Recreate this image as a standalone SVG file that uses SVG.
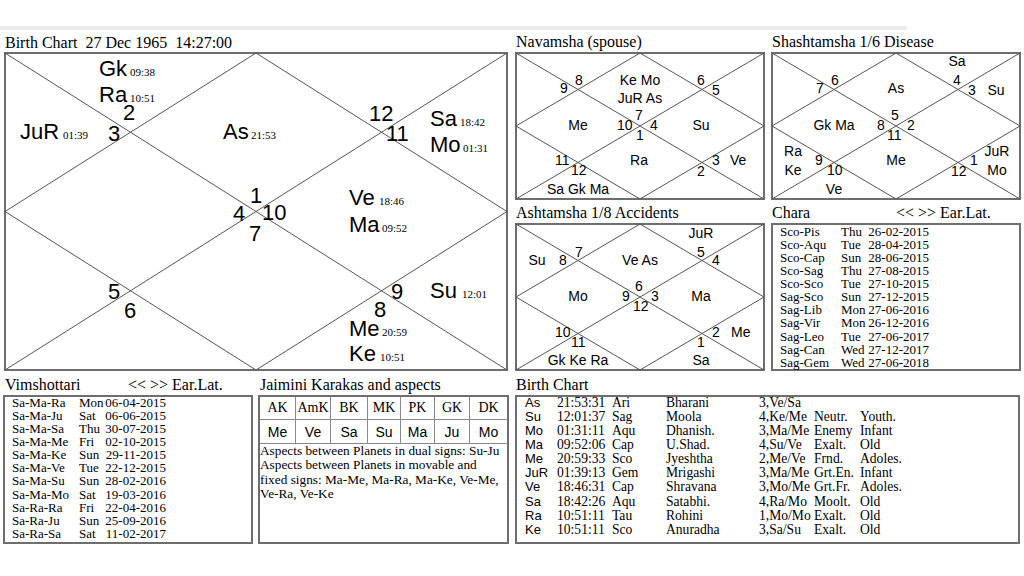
<svg xmlns="http://www.w3.org/2000/svg" width="1024" height="576" viewBox="0 0 1024 576">
<style>
.t{font-family:"Liberation Serif","Times New Roman",serif;font-size:16px;fill:#000;white-space:pre}
.pl{font-family:"Liberation Sans",Arial,sans-serif;font-size:22px;fill:#000}
.dg{font-family:"Liberation Serif","Times New Roman",serif;font-size:11px;fill:#000}
.s{font-family:"Liberation Sans",Arial,sans-serif;font-size:14px;fill:#000}
.sm{font-family:"Liberation Sans",Arial,sans-serif;font-size:14px;fill:#000;text-anchor:middle}
.tb{font-family:"Liberation Serif","Times New Roman",serif;font-size:13px;fill:#000}
.tbe{font-family:"Liberation Serif","Times New Roman",serif;font-size:13px;fill:#000;text-anchor:end}
.bt{font-family:"Liberation Serif","Times New Roman",serif;font-size:13.6px;fill:#000}
.ba{font-family:"Liberation Sans",Arial,sans-serif;font-size:13px;fill:#000}
.box{fill:#fff;stroke:#6e6e6e;stroke-width:2}
.ln{fill:none;stroke:#555;stroke-width:1}
.cell{fill:none;stroke:#8a8a8a;stroke-width:1}
.jh{font-family:"Liberation Serif","Times New Roman",serif;font-size:14px;fill:#000;text-anchor:middle}
.jv{font-family:"Liberation Sans",Arial,sans-serif;font-size:14px;fill:#000;text-anchor:middle}
</style>
<rect x="0" y="0" width="1024" height="576" fill="#fff"/>
<rect x="0" y="26" width="907" height="4" fill="#ededed"/>

<g id="main-chart">
<text class="t" x="5" y="48">Birth Chart  27 Dec 1965  14:27:00</text>
<rect class="box" x="5" y="53" width="502" height="317"/>
<path class="ln" d="M5 53L507 370M507 53L5 370M256 53L507 211.5L256 370L5 211.5Z"/>
<text class="pl" x="99" y="76">Gk</text><text class="dg" x="130" y="76">09:38</text>
<text class="pl" x="99" y="102">Ra</text><text class="dg" x="130" y="102">10:51</text>
<text class="pl" x="123" y="120">2</text>
<text class="pl" x="20" y="139">JuR</text><text class="dg" x="63" y="139">01:39</text>
<text class="pl" x="108" y="141">3</text>
<text class="pl" x="223" y="139">As</text><text class="dg" x="251" y="139">21:53</text>
<text class="pl" x="369" y="121">12</text>
<text class="pl" x="386" y="141">11</text>
<text class="pl" x="430" y="126">Sa</text><text class="dg" x="460" y="126">18:42</text>
<text class="pl" x="430" y="152">Mo</text><text class="dg" x="463" y="152">01:31</text>
<text class="pl" x="250" y="203">1</text>
<text class="pl" x="233" y="221">4</text>
<text class="pl" x="262" y="220">10</text>
<text class="pl" x="249" y="241">7</text>
<text class="pl" x="349" y="205">Ve</text><text class="dg" x="379" y="205">18:46</text>
<text class="pl" x="349" y="232">Ma</text><text class="dg" x="382" y="232">09:52</text>
<text class="pl" x="108" y="299">5</text>
<text class="pl" x="124" y="318">6</text>
<text class="pl" x="391" y="299">9</text>
<text class="pl" x="374" y="317">8</text>
<text class="pl" x="430" y="298">Su</text><text class="dg" x="462" y="298">12:01</text>
<text class="pl" x="349" y="336">Me</text><text class="dg" x="382" y="336">20:59</text>
<text class="pl" x="349" y="361">Ke</text><text class="dg" x="380" y="361">10:51</text>
</g>

<g id="navamsha">
<text class="t" x="516" y="47">Navamsha (spouse)</text>
<rect class="box" x="516" y="53" width="248" height="146"/>
<path class="ln" d="M516 53L764 199M764 53L516 199M640 53L764 126L640 199L516 126Z"/>
<text class="s" x="560" y="93">9</text><text class="s" x="575" y="85">8</text>
<text class="sm" x="640" y="85">Ke Mo</text><text class="sm" x="640" y="103">JuR As</text>
<text class="s" x="697" y="85">6</text><text class="s" x="712" y="95">5</text>
<text class="sm" x="578" y="130">Me</text>
<text class="s" x="617" y="130">10</text><text class="s" x="635" y="120">7</text><text class="s" x="650" y="130">4</text><text class="s" x="636" y="140">1</text>
<text class="sm" x="701" y="130">Su</text>
<text class="s" x="555" y="165">11</text><text class="s" x="571" y="175">12</text>
<text class="sm" x="639" y="165">Ra</text>
<text class="s" x="712" y="165">3</text><text class="s" x="730" y="165">Ve</text><text class="s" x="697" y="176">2</text>
<text class="sm" x="578" y="194">Sa Gk Ma</text>
</g>

<g id="shashtamsha">
<text class="t" x="772" y="47">Shashtamsha 1/6 Disease</text>
<rect class="box" x="772" y="53" width="248" height="146"/>
<path class="ln" d="M772 53L1020 199M1020 53L772 199M896 53L1020 126L896 199L772 126Z"/>
<text class="sm" x="957" y="66">Sa</text>
<text class="s" x="816" y="93">7</text><text class="s" x="831" y="85">6</text>
<text class="sm" x="896" y="93">As</text>
<text class="s" x="953" y="85">4</text><text class="s" x="968" y="95">3</text>
<text class="sm" x="996" y="95">Su</text>
<text class="sm" x="834" y="130">Gk Ma</text>
<text class="s" x="877" y="130">8</text><text class="s" x="891" y="120">5</text><text class="s" x="907" y="130">2</text><text class="s" x="887" y="140">11</text>
<text class="sm" x="793" y="156">Ra</text><text class="sm" x="793" y="175">Ke</text>
<text class="s" x="815" y="165">9</text><text class="s" x="827" y="175">10</text>
<text class="sm" x="896" y="165">Me</text>
<text class="s" x="951" y="176">12</text><text class="s" x="970" y="165">1</text>
<text class="sm" x="997" y="156">JuR</text><text class="sm" x="997" y="175">Mo</text>
<text class="sm" x="834" y="194">Ve</text>
</g>

<g id="ashtamsha">
<text class="t" x="516" y="218">Ashtamsha 1/8 Accidents</text>
<rect class="box" x="516" y="224" width="248" height="146"/>
<path class="ln" d="M516 224L764 370M764 224L516 370M640 224L764 297L640 370L516 297Z"/>
<text class="sm" x="701" y="238">JuR</text>
<text class="sm" x="537" y="265">Su</text>
<text class="s" x="559" y="265">8</text><text class="s" x="575" y="257">7</text>
<text class="sm" x="640" y="265">Ve As</text>
<text class="s" x="697" y="257">5</text><text class="s" x="712" y="265">4</text>
<text class="sm" x="578" y="301">Mo</text>
<text class="s" x="622" y="301">9</text><text class="s" x="635" y="291">6</text><text class="s" x="651" y="301">3</text><text class="s" x="633" y="311">12</text>
<text class="sm" x="701" y="301">Ma</text>
<text class="s" x="555" y="337">10</text><text class="s" x="571" y="347">11</text>
<text class="s" x="712" y="337">2</text><text class="s" x="731" y="337">Me</text>
<text class="s" x="697" y="347">1</text>
<text class="sm" x="578" y="365">Gk Ke Ra</text>
<text class="sm" x="701" y="365">Sa</text>
</g>

<g id="chara">
<text class="t" x="772" y="218">Chara</text>
<text class="t" x="896" y="218">&lt;&lt; &gt;&gt; Ear.Lat.</text>
<rect class="box" x="772" y="224" width="248" height="146"/>
<text class="tb" x="780" y="236">Sco-Pis</text><text class="tb" x="841" y="236">Thu</text><text class="tbe" x="929" y="236">26-02-2015</text>
<text class="tb" x="780" y="249">Sco-Aqu</text><text class="tb" x="841" y="249">Tue</text><text class="tbe" x="929" y="249">28-04-2015</text>
<text class="tb" x="780" y="262">Sco-Cap</text><text class="tb" x="841" y="262">Sun</text><text class="tbe" x="929" y="262">28-06-2015</text>
<text class="tb" x="780" y="275">Sco-Sag</text><text class="tb" x="841" y="275">Thu</text><text class="tbe" x="929" y="275">27-08-2015</text>
<text class="tb" x="780" y="288">Sco-Sco</text><text class="tb" x="841" y="288">Tue</text><text class="tbe" x="929" y="288">27-10-2015</text>
<text class="tb" x="780" y="301">Sag-Sco</text><text class="tb" x="841" y="301">Sun</text><text class="tbe" x="929" y="301">27-12-2015</text>
<text class="tb" x="780" y="314">Sag-Lib</text><text class="tb" x="841" y="314">Mon</text><text class="tbe" x="929" y="314">27-06-2016</text>
<text class="tb" x="780" y="327">Sag-Vir</text><text class="tb" x="841" y="327">Mon</text><text class="tbe" x="929" y="327">26-12-2016</text>
<text class="tb" x="780" y="341">Sag-Leo</text><text class="tb" x="841" y="341">Tue</text><text class="tbe" x="929" y="341">27-06-2017</text>
<text class="tb" x="780" y="354">Sag-Can</text><text class="tb" x="841" y="354">Wed</text><text class="tbe" x="929" y="354">27-12-2017</text>
<text class="tb" x="780" y="367">Sag-Gem</text><text class="tb" x="841" y="367">Wed</text><text class="tbe" x="929" y="367">27-06-2018</text>
</g>

<g id="vimshottari">
<text class="t" x="5" y="390">Vimshottari</text>
<text class="t" x="128" y="390">&lt;&lt; &gt;&gt; Ear.Lat.</text>
<rect class="box" x="4" y="396" width="248" height="147"/>
<text class="tb" x="12" y="407">Sa-Ma-Ra</text><text class="tb" x="79" y="407">Mon</text><text class="tbe" x="166" y="407">06-04-2015</text>
<text class="tb" x="12" y="420">Sa-Ma-Ju</text><text class="tb" x="79" y="420">Sat</text><text class="tbe" x="166" y="420">06-06-2015</text>
<text class="tb" x="12" y="433">Sa-Ma-Sa</text><text class="tb" x="79" y="433">Thu</text><text class="tbe" x="166" y="433">30-07-2015</text>
<text class="tb" x="12" y="446">Sa-Ma-Me</text><text class="tb" x="79" y="446">Fri</text><text class="tbe" x="166" y="446">02-10-2015</text>
<text class="tb" x="12" y="459">Sa-Ma-Ke</text><text class="tb" x="79" y="459">Sun</text><text class="tbe" x="166" y="459">29-11-2015</text>
<text class="tb" x="12" y="472">Sa-Ma-Ve</text><text class="tb" x="79" y="472">Tue</text><text class="tbe" x="166" y="472">22-12-2015</text>
<text class="tb" x="12" y="485">Sa-Ma-Su</text><text class="tb" x="79" y="485">Sun</text><text class="tbe" x="166" y="485">28-02-2016</text>
<text class="tb" x="12" y="499">Sa-Ma-Mo</text><text class="tb" x="79" y="499">Sat</text><text class="tbe" x="166" y="499">19-03-2016</text>
<text class="tb" x="12" y="512">Sa-Ra-Ra</text><text class="tb" x="79" y="512">Fri</text><text class="tbe" x="166" y="512">22-04-2016</text>
<text class="tb" x="12" y="525">Sa-Ra-Ju</text><text class="tb" x="79" y="525">Sun</text><text class="tbe" x="166" y="525">25-09-2016</text>
<text class="tb" x="12" y="538">Sa-Ra-Sa</text><text class="tb" x="79" y="538">Sat</text><text class="tbe" x="166" y="538">11-02-2017</text>
</g>

<g id="jaimini">
<text class="t" x="260" y="390">Jaimini Karakas and aspects</text>
<rect class="box" x="259" y="396" width="249" height="147"/>
<path class="cell" d="M260 419.5H508M260 443.5H508M295.5 397V443M330.5 397V443M367.5 397V443M400.5 397V443M434.5 397V443M469.5 397V443"/>
<text class="jh" x="277.5" y="412">AK</text><text class="jh" x="313" y="412">AmK</text><text class="jh" x="349" y="412">BK</text><text class="jh" x="384" y="412">MK</text><text class="jh" x="417.5" y="412">PK</text><text class="jh" x="452" y="412">GK</text><text class="jh" x="488.5" y="412">DK</text>
<text class="jv" x="277.5" y="437">Me</text><text class="jv" x="313" y="437">Ve</text><text class="jv" x="349" y="437">Sa</text><text class="jv" x="384" y="437">Su</text><text class="jv" x="417.5" y="437">Ma</text><text class="jv" x="452" y="437">Ju</text><text class="jv" x="488.5" y="437">Mo</text>
<text class="tb" x="260" y="455" style="font-size:13.3px">Aspects between Planets in dual signs: Su-Ju</text>
<text class="tb" x="260" y="469" style="font-size:13.3px">Aspects between Planets in movable and</text>
<text class="tb" x="260" y="484" style="font-size:13.3px">fixed signs: Ma-Me, Ma-Ra, Ma-Ke, Ve-Me,</text>
<text class="tb" x="260" y="498" style="font-size:13.3px">Ve-Ra, Ve-Ke</text>
</g>

<g id="birth-table">
<text class="t" x="516" y="390">Birth Chart</text>
<rect class="box" x="516" y="396" width="503" height="147"/>
<g class="ba">
<text x="525" y="407">As</text><text x="525" y="421">Su</text><text x="525" y="435">Mo</text><text x="525" y="449">Ma</text><text x="525" y="463">Me</text><text x="525" y="477">JuR</text><text x="525" y="491">Ve</text><text x="525" y="506">Sa</text><text x="525" y="520">Ra</text><text x="525" y="534">Ke</text>
</g>
<g class="bt">
<text x="557" y="407">21:53:31</text><text x="612" y="407">Ari</text><text x="666" y="407">Bharani</text><text x="759" y="407">3,Ve/Sa</text>
<text x="557" y="421">12:01:37</text><text x="612" y="421">Sag</text><text x="666" y="421">Moola</text><text x="759" y="421">4,Ke/Me</text><text x="814" y="421">Neutr.</text><text x="860" y="421">Youth.</text>
<text x="557" y="435">01:31:11</text><text x="612" y="435">Aqu</text><text x="666" y="435">Dhanish.</text><text x="759" y="435">3,Ma/Me</text><text x="814" y="435">Enemy</text><text x="860" y="435">Infant</text>
<text x="557" y="449">09:52:06</text><text x="612" y="449">Cap</text><text x="666" y="449">U.Shad.</text><text x="759" y="449">4,Su/Ve</text><text x="814" y="449">Exalt.</text><text x="860" y="449">Old</text>
<text x="557" y="463">20:59:33</text><text x="612" y="463">Sco</text><text x="666" y="463">Jyeshtha</text><text x="759" y="463">2,Me/Ve</text><text x="814" y="463">Frnd.</text><text x="860" y="463">Adoles.</text>
<text x="557" y="477">01:39:13</text><text x="612" y="477">Gem</text><text x="666" y="477">Mrigashi</text><text x="759" y="477">3,Ma/Me</text><text x="814" y="477">Grt.En.</text><text x="860" y="477">Infant</text>
<text x="557" y="491">18:46:31</text><text x="612" y="491">Cap</text><text x="666" y="491">Shravana</text><text x="759" y="491">3,Mo/Me</text><text x="814" y="491">Grt.Fr.</text><text x="860" y="491">Adoles.</text>
<text x="557" y="506">18:42:26</text><text x="612" y="506">Aqu</text><text x="666" y="506">Satabhi.</text><text x="759" y="506">4,Ra/Mo</text><text x="814" y="506">Moolt.</text><text x="860" y="506">Old</text>
<text x="557" y="520">10:51:11</text><text x="612" y="520">Tau</text><text x="666" y="520">Rohini</text><text x="759" y="520">1,Mo/Mo</text><text x="814" y="520">Exalt.</text><text x="860" y="520">Old</text>
<text x="557" y="534">10:51:11</text><text x="612" y="534">Sco</text><text x="666" y="534">Anuradha</text><text x="759" y="534">3,Sa/Su</text><text x="814" y="534">Exalt.</text><text x="860" y="534">Old</text>
</g>
</g>
</svg>
